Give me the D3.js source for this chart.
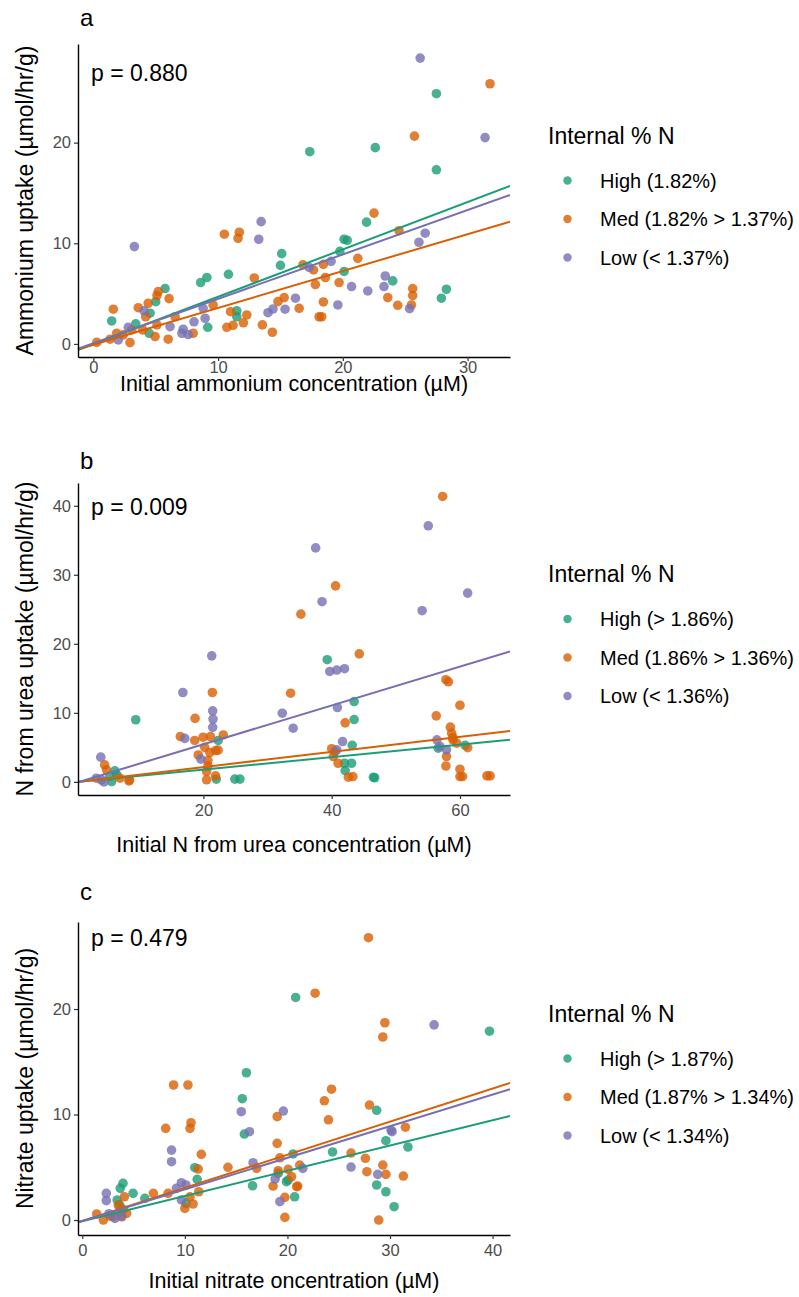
<!DOCTYPE html>
<html>
<head>
<meta charset="utf-8">
<script src="https://cdn.jsdelivr.net/npm/d3@7"></script>
<style>
  body { margin: 0; background: #fff; }
  text { font-family: "Liberation Sans", Arial, Helvetica, sans-serif; }
</style>
</head>
<body>
<div id="chart"></div>
<script>
// groups and colours (Dark2)
const groupNames = ["High", "Med", "Low"];
const groupColors = ["#1B9E77", "#D95F02", "#7570B3"];

// ---- panel a: ammonium ----
const ammHigh = [[1.47,2.28],[3.4,1.99],[4.55,3.05],[5.0,4.2],[5.75,5.5],[4.47,1.06],[9.17,1.65],[8.6,6.1],
  [9.1,6.6],[10.83,6.92],[11.5,3.28],[11.5,2.7],[15.0,7.8],[15.1,8.97],[17.35,19.1],[22.6,19.5],[27.5,24.86],
  [27.5,17.3],[21.9,12.1],[20.1,10.4],[20.35,10.3],[19.76,9.2],[20.1,7.2],[24.0,6.26],[28.3,5.43],[27.9,4.54]];
const ammMed = [[0.27,0.15],[1.34,0.47],[1.6,3.45],[1.87,1.06],[2.4,0.9],[2.94,0.13],[3.08,1.39],[3.6,3.6],
  [3.96,1.39],[4.2,2.7],[4.4,4.04],[4.95,0.73],[5.1,4.8],[5.2,5.2],[5.1,1.89],[6.07,4.5],[6.0,0.47],[6.55,2.7],
  [8.0,1.06],[9.6,3.87],[10.5,10.9],[11.7,11.1],[11.6,10.5],[12.9,6.55],[10.7,1.65],[11.2,1.85],[11.0,3.2],
  [12.3,2.88],[12.03,2.1],[13.55,1.89],[14.35,1.16],[14.8,4.2],[15.3,4.6],[16.5,3.54],[16.8,7.85],[17.65,7.35],
  [18.44,7.9],[18.6,6.6],[17.8,5.9],[18.44,4.17],[18.1,2.7],[18.3,2.7],[19.7,6.1],[21.2,8.5],[22.5,13.0],
  [24.5,11.25],[25.74,20.65],[31.8,25.85],[23.6,4.6],[24.4,3.84],[25.6,5.5],[25.6,4.8],[25.5,3.87]];
const ammLow = [[2.0,0.4],[2.8,1.65],[3.29,9.67],[4.07,3.28],[6.15,1.72],[7.1,1.06],[7.2,1.46],[7.6,0.93],
  [8.07,2.2],[8.8,3.54],[8.96,2.55],[13.45,12.15],[13.26,10.4],[14.0,3.1],[14.4,3.47],[15.37,3.45],[16.2,4.54],
  [17.3,7.6],[19.06,8.2],[19.6,3.87],[20.7,5.7],[22.0,5.26],[23.4,6.75],[23.3,5.7],[25.35,3.5],[26.1,10.1],
  [26.6,11.0],[26.2,28.4],[31.4,20.5]];
const ammIntercept = [-0.03, -0.08, 0.07];
const ammSlope = [0.471, 0.366, 0.441];
const ammLegend = ["High (1.82%)", "Med (1.82% > 1.37%)", "Low (< 1.37%)"];

// ---- panel b: urea ----
const ureaHigh = [[6.2,1.6],[5.4,0.77],[5.7,0.05],[6.5,1.0],[9.45,9.0],[22.3,6.0],[22.0,0.39],[24.9,0.4],
  [25.7,0.4],[39.3,17.7],[43.5,11.64],[43.5,9.03],[43.2,5.3],[42.0,2.7],[43.1,2.7],[42.1,1.64],[46.5,0.68],
  [46.7,0.6],[56.6,4.88],[60.8,5.3]];
const ureaMed = [[4.6,2.46],[4.9,1.74],[7.0,0.53],[8.4,0.14],[8.5,0.3],[16.4,6.57],[18.7,9.2],[18.65,6.0],
  [19.95,6.47],[21.1,6.57],[23.1,6.8],[21.4,12.95],[20.2,5.0],[19.2,3.9],[21.0,4.25],[21.9,4.54],[22.3,4.6],
  [20.7,3.1],[20.7,2.3],[20.5,1.5],[20.5,0.3],[21.9,0.87],[33.6,12.85],[35.2,24.3],[40.6,28.4],[44.3,18.55],
  [42.1,8.55],[40.5,4.4],[40.25,3.67],[41.0,2.7],[40.0,4.8],[42.6,0.68],[43.3,0.77],[57.3,41.35],[57.8,14.8],
  [58.2,14.5],[60.0,11.1],[56.3,9.57],[58.5,7.93],[58.7,7.06],[58.9,6.42],[57.9,3.67],[57.8,2.3],[60.0,1.84],
  [60.0,0.77],[60.4,0.77],[61.2,4.97],[64.2,0.87],[64.7,0.87],[58.9,6.1],[59.5,5.6]];
const ureaLow = [[3.3,0.53],[4.0,3.58],[4.1,0.29],[4.5,0.0],[16.8,12.95],[17.1,6.3],[19.6,3.3],[21.3,18.26],
  [21.45,10.3],[21.5,9.1],[21.45,7.9],[32.3,9.95],[34.0,7.78],[37.5,33.9],[38.5,26.1],[39.7,16.0],[40.8,16.2],
  [42.0,16.4],[40.9,10.77],[41.7,5.84],[40.8,4.64],[55.06,37.1],[54.1,24.8],[61.2,27.35],[56.4,6.09],
  [56.9,5.12],[57.9,4.64]];
const ureaIntercept = [-0.03, -0.05, -0.18];
const ureaSlope = [0.0903, 0.1097, 0.2815];
const ureaLegend = ["High (> 1.86%)", "Med (1.86% > 1.36%)", "Low (< 1.36%)"];

// ---- panel c: nitrate ----
const nitHigh = [[3.97,3.48],[3.7,3.0],[3.4,1.9],[3.65,1.42],[4.95,2.53],[6.1,2.05],[10.97,4.96],[11.2,3.86],
  [10.1,1.58],[15.6,11.5],[16.0,13.96],[15.8,8.15],[16.6,3.25],[20.55,6.26],[19.1,4.42],[20.07,3.79],[20.7,2.2],
  [19.9,3.63],[20.8,21.1],[24.4,6.45],[28.7,10.4],[29.6,7.52],[31.75,6.92],[28.7,3.32],[29.6,2.68],[30.4,1.26],
  [39.7,17.9]];
const nitMed = [[1.4,0.57],[2.05,0.0],[2.7,0.38],[3.0,0.31],[3.68,0.79],[4.33,0.63],[3.84,0.31],[3.5,1.42],
  [4.1,2.2],[4.0,1.0],[6.93,2.53],[8.36,2.53],[8.13,8.69],[8.9,12.8],[10.3,12.8],[10.6,9.22],[10.5,8.69],
  [11.6,6.23],[11.3,4.83],[11.35,2.68],[10.5,2.2],[10.8,1.52],[10.0,1.1],[14.2,5.0],[17.0,4.9],[19.0,9.8],
  [19.0,7.27],[19.26,5.9],[19.1,4.67],[20.07,4.8],[18.6,3.22],[20.4,4.1],[20.9,3.16],[19.75,2.15],[19.75,0.25],
  [21.2,5.2],[21.0,3.22],[22.7,21.5],[27.9,26.76],[29.5,18.7],[29.3,17.35],[24.3,12.4],[23.6,11.3],[24.0,9.5],
  [28.0,10.9],[31.5,8.8],[26.2,6.35],[27.6,5.85],[27.75,4.58],[29.3,5.21],[29.6,4.33],[31.3,4.17],[28.9,0.0]];
const nitLow = [[2.34,2.53],[2.34,1.83],[3.84,0.38],[3.19,0.16],[2.6,0.6],[8.7,6.63],[8.7,5.53],[9.66,3.54],
  [10.1,3.32],[9.17,3.0],[9.66,1.9],[15.5,10.27],[16.3,8.37],[16.65,5.43],[19.6,10.33],[18.8,3.89],[19.26,1.74],
  [21.5,4.9],[26.2,5.02],[28.8,4.33],[30.1,8.53],[30.2,8.37],[34.3,18.5]];
const nitIntercept = [-0.11, -0.09, -0.09];
const nitSlope = [0.239, 0.314, 0.2995];
const nitLegend = ["High (> 1.87%)", "Med (1.87% > 1.34%)", "Low (< 1.34%)"];

const xTicksA = [0, 10, 20, 30], yTicksA = [0, 10, 20];
const xTicksB = [20, 40, 60], yTicksB = [0, 10, 20, 30, 40];
const xTicksC = [0, 10, 20, 30, 40], yTicksC = [0, 10, 20];

const width = 799, height = 1297;
const left = 78, right = 510;

const svg = d3.select("#chart").append("svg")
    .attr("width", width)
    .attr("height", height);
svg.append("rect").attr("width", width).attr("height", height).attr("fill", "#fff");

const panels = [
  { tag: "a", top: 44, bottom: 357, xDom: [-1.23, 33.4], yDom: [-1.3, 29.8],
    xTicks: xTicksA, yTicks: yTicksA, series: [ammHigh, ammMed, ammLow],
    intercept: ammIntercept, slope: ammSlope, legend: ammLegend, p: "p = 0.880",
    tickPad: 0, titleOff: 34, pOff: 37, tagOff: 18,
    xTitle: "Initial ammonium concentration (µM)", yTitle: "Ammonium uptake (µmol/hr/g)" },
  { tag: "b", top: 483, bottom: 795, xDom: [0.45, 67.8], yDom: [-1.9, 43.3],
    xTicks: xTicksB, yTicks: yTicksB, series: [ureaHigh, ureaMed, ureaLow],
    intercept: ureaIntercept, slope: ureaSlope, legend: ureaLegend, p: "p = 0.009",
    tickPad: 5, titleOff: 57, pOff: 32, tagOff: 14,
    xTitle: "Initial N from urea concentration (µM)", yTitle: "N from urea uptake (µmol/hr/g)" },
  { tag: "c", top: 922, bottom: 1235, xDom: [-0.42, 41.7], yDom: [-1.42, 28.25],
    xTicks: xTicksC, yTicks: yTicksC, series: [nitHigh, nitMed, nitLow],
    intercept: nitIntercept, slope: nitSlope, legend: nitLegend, p: "p = 0.479",
    tickPad: 5, titleOff: 53, pOff: 24, tagOff: 22,
    xTitle: "Initial nitrate oncentration (µM)", yTitle: "Nitrate uptake (µmol/hr/g)" }
];

panels.forEach(drawPanel);

function drawPanel(p) {
  const x = d3.scaleLinear().domain(p.xDom).range([left, right]);
  const y = d3.scaleLinear().domain(p.yDom).range([p.bottom, p.top]);
  const g = svg.append("g");

  // points
  p.series.forEach((pts, i) => {
    g.append("g").selectAll("circle")
      .data(pts)
      .enter().append("circle")
      .attr("cx", d => x(d[0]))
      .attr("cy", d => y(d[1]))
      .attr("r", 4.8)
      .attr("fill", groupColors[i])
      .attr("fill-opacity", 0.8);
  });

  // fitted lines across the whole panel
  p.intercept.forEach((b, i) => {
    const ends = p.xDom.map(v => [v, b + p.slope[i] * v]);
    g.append("path")
      .attr("d", d3.line().x(d => x(d[0])).y(d => y(d[1]))(ends))
      .attr("fill", "none")
      .attr("stroke", groupColors[i])
      .attr("stroke-width", 2);
  });

  // axes
  const xAxis = g.append("g")
    .attr("transform", `translate(0,${p.bottom})`)
    .call(d3.axisBottom(x).tickValues(p.xTicks).tickSize(4).tickSizeOuter(0).tickPadding(p.tickPad));
  const yAxis = g.append("g")
    .attr("transform", `translate(${left},0)`)
    .call(d3.axisLeft(y).tickValues(p.yTicks).tickSize(4).tickSizeOuter(0).tickPadding(3));
  [xAxis, yAxis].forEach(ax => {
    ax.attr("font-family", null).attr("font-size", null);
    ax.select(".domain").attr("stroke", "#000").attr("stroke-width", 1.4);
    ax.selectAll(".tick line").attr("stroke", "#333").attr("stroke-width", 1.2);
    ax.selectAll(".tick text").attr("fill", "#4d4d4d").style("font-size", "16.5px");
  });

  // titles
  g.append("text")
    .attr("x", (left + right) / 2)
    .attr("y", p.bottom + p.titleOff)
    .attr("text-anchor", "middle")
    .style("font-size", "21.5px")
    .text(p.xTitle);
  g.append("text")
    .attr("transform", `translate(33,${(p.top + p.bottom) / 2}) rotate(-90)`)
    .attr("text-anchor", "middle")
    .style("font-size", "23px")
    .text(p.yTitle);
  g.append("text")
    .attr("x", 80)
    .attr("y", p.top - p.tagOff)
    .style("font-size", "24px")
    .text(p.tag);
  g.append("text")
    .attr("x", 91)
    .attr("y", p.top + p.pOff)
    .style("font-size", "23px")
    .text(p.p);

  // legend
  const mid = (p.top + p.bottom) / 2;
  const lg = g.append("g");
  lg.append("text")
    .attr("x", 548)
    .attr("y", mid - 57)
    .style("font-size", "23px")
    .text("Internal % N");
  p.legend.forEach((lab, i) => {
    const cy = mid - 20 + i * 38.5;
    lg.append("circle")
      .attr("cx", 567.5)
      .attr("cy", cy)
      .attr("r", 4.2)
      .attr("fill", groupColors[i])
      .attr("fill-opacity", 0.8);
    lg.append("text")
      .attr("x", 600)
      .attr("y", cy + 7)
      .style("font-size", "20px")
      .text(lab);
  });
}
</script>
</body>
</html>
